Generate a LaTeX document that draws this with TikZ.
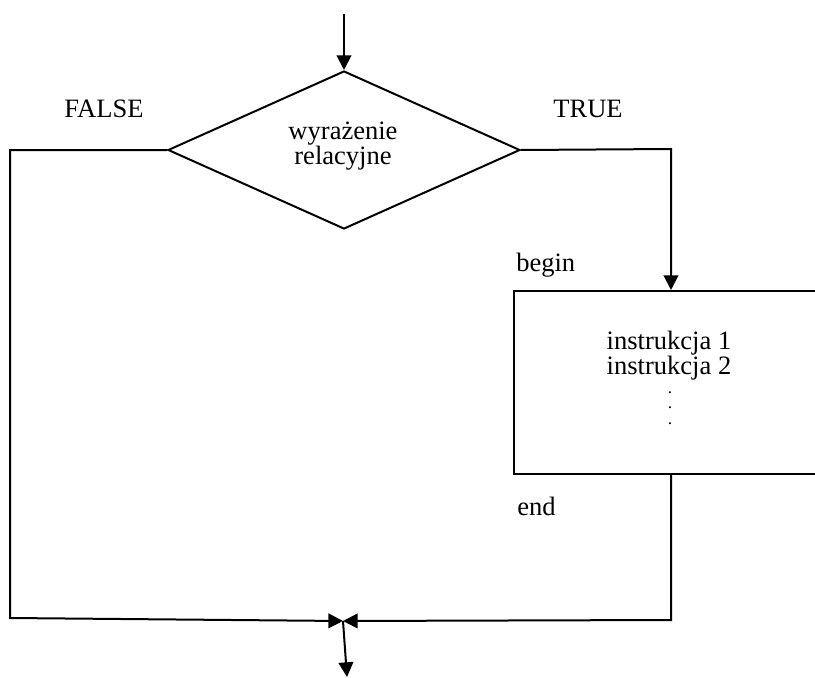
\documentclass[tikz,border=0pt]{standalone}
\usepackage{fontspec}
\setmainfont{Liberation Serif}
\usetikzlibrary{shapes.geometric,arrows.meta}
\begin{document}
\begin{tikzpicture}[x=0.75pt,y=-0.75pt,
  every node/.style={font=\fontsize{19.9pt}{15.75pt}\selectfont},
  flow/.style={line width=1.5pt},
  arr/.style={flow,-{Triangle[length=11pt,width=11pt]}},
  lbl/.style={inner sep=0pt},
  ]
\useasboundingbox (0,0) rectangle (815,678);
\clip (0,0) rectangle (815,678);

% decision
\node[diamond, draw, flow, minimum width=264pt, minimum height=118.5pt, inner sep=0pt] (cond) at (344,150) {};
\node[lbl, align=center] (condtext) at (343,146) {wyrażenie\\relacyjne};

% branch labels
\node[lbl, anchor=base] (false) at (104,117) {FALSE};
\node[lbl, anchor=base] (true) at (588,117) {TRUE};
\node[lbl, anchor=base west] (begin) at (516,271) {begin};
\node[lbl, anchor=base west] (end) at (517,515) {end};

% compound statement block (runs off the right edge)
\node[draw, flow, anchor=north west, minimum width=247.5pt, minimum height=137.25pt, inner sep=0pt] (body) at (513,290) {};
\node[lbl, align=center, font=\fontsize{19.9pt}{18.75pt}\selectfont] (steps) at (669,356)
  {instrukcja 1\\instrukcja 2};
\node[lbl, align=center, font=\fontsize{13pt}{11.75pt}\selectfont] (dots) at (670,408)
  {.\\.\\.};

% routing points
\coordinate (in) at (344,14);
\coordinate (fork) at (671,149);
\coordinate (cornerL) at (10,150);
\coordinate (cornerLB) at (10,618);
\coordinate (merge) at (343,621);
\coordinate (cornerRB) at (671,620);
\coordinate (out) at (347,677);

% connectors
\draw[arr] (in) -- (cond.north);
\draw[arr] (cond.east) -- (fork) -- (fork |- body.north);
\draw[arr] (cond.west) -- (cornerL) -- (cornerLB) -- (merge);
\draw[arr] (body.south -| fork) -- (cornerRB) -- (merge);
\draw[arr] (merge) -- (out);
\end{tikzpicture}
\end{document}
